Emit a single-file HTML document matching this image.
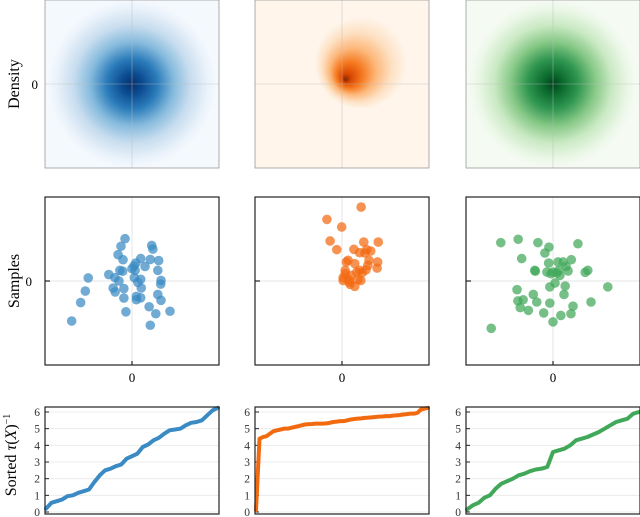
<!DOCTYPE html>
<html><head><meta charset="utf-8"><style>
html,body{margin:0;padding:0;background:#fff}
svg{display:block;font-family:"Liberation Serif",serif}
</style></head><body>
<svg id="fig" width="640" height="517" viewBox="0 0 640 517">
<defs>
<radialGradient id="gb" gradientUnits="userSpaceOnUse" cx="132" cy="84" r="84">
<stop offset="0" stop-color="#08306b"/><stop offset="0.12" stop-color="#0b4a8f"/><stop offset="0.3" stop-color="#2a7bba"/><stop offset="0.5" stop-color="#86bbdd"/><stop offset="0.7" stop-color="#c8ddef"/><stop offset="0.9" stop-color="#eaf2fa"/><stop offset="1" stop-color="#f4f9fe"/>
</radialGradient>
<radialGradient id="gg" gradientUnits="userSpaceOnUse" cx="553" cy="84" r="84">
<stop offset="0" stop-color="#00441b"/><stop offset="0.12" stop-color="#0b6b2e"/><stop offset="0.3" stop-color="#2f9650"/><stop offset="0.5" stop-color="#86c886"/><stop offset="0.7" stop-color="#c9e9c3"/><stop offset="0.9" stop-color="#ecf7e8"/><stop offset="1" stop-color="#f5fbf3"/>
</radialGradient>
<radialGradient id="go" gradientUnits="userSpaceOnUse" cx="361" cy="63" r="46" fx="345" fy="80">
<stop offset="0" stop-color="#7f2704"/><stop offset="0.1" stop-color="#d94801"/><stop offset="0.28" stop-color="#f5791f"/><stop offset="0.5" stop-color="#fdb77a"/><stop offset="0.75" stop-color="#fde0c2"/><stop offset="1" stop-color="#fff5eb"/>
</radialGradient>
</defs>
<g id="root"></g>
<text transform="translate(19,84) rotate(-90)" text-anchor="middle" font-size="16">Density</text>
<text transform="translate(19,281) rotate(-90)" text-anchor="middle" font-size="16">Samples</text>
<text transform="translate(16,455) rotate(-90)" text-anchor="middle" font-size="16">Sorted <tspan font-style="italic">τ</tspan>(<tspan font-style="italic">X</tspan>)<tspan dy="-6" font-size="10">−1</tspan></text>
</svg>
<script>
const blueX=[-0.24,-0.38,0.68,0.72,-0.48,-0.31,0.30,0.63,0.92,0.13,0.07,0,0.45,0.11,-0.42,-0.32,0.89,-0.80,-0.59,-1.51,-0.45,0.08,0.30,1.0,0.20,0.99,-0.65,0.32,-0.28,-0.58,-1.61,0.89,-0.28,0.15,0.30,0.15,1.0,-1.77,0.59,-0.21,0.82,1.31,-2.08,0.63];
const blueY=[1.51,1.24,1.27,1.14,0.94,0.76,0.80,0.77,0.73,0.64,0.54,0.44,0.52,0.38,0.38,0.35,0.38,0.23,0.12,0.11,0,0.12,0.06,0.02,-0.05,-0.11,-0.25,-0.25,-0.27,-0.39,-0.36,-0.48,-0.61,-0.55,-0.6,-0.67,-0.69,-0.77,-0.92,-1.10,-1.17,-1.08,-1.43,-1.58];
const orangeX=[0.66,-0.52,-0.01,-0.41,0.75,1.25,-0.18,0.41,0.61,0.85,0.99,0.79,0.21,0.15,0.93,1.23,0.44,0.89,0.11,0.61,1.21,0.83,0.51,0.70,0.11,0.32,0.04,0.23,0.55,0.04,0.25,0.44,0.28,0.65];
const orangeY=[2.64,2.20,1.93,1.43,1.39,1.39,1.12,1.13,1.01,1.12,1.07,1.0,0.74,0.68,0.74,0.68,0.62,0.56,0.38,0.38,0.46,0.40,0.32,0.30,0.26,0.20,0.12,0.05,0.05,0.02,-0.04,-0.19,-0.12,0.02];
const greenX=[-1.80,-1.20,-0.52,-0.14,0.86,-0.28,-1.08,-0.15,0.17,0.35,0.63,-0.63,-0.61,-0.21,0,0.20,0.52,1.20,1.11,0.13,-0.07,0.07,-0.11,0.42,1.89,-1.24,-0.68,0.38,-1.21,-1.03,-0.56,-0.11,1.31,-1.13,-0.85,0.69,-0.32,0.27,0.62,0,-2.13,0.45,0.24];
const greenY=[1.37,1.49,1.37,1.21,1.33,1.0,0.80,0.64,0.68,0.68,0.76,0.38,0.35,0.32,0.32,0.38,0.36,0.38,0.31,0.29,0.26,-0.07,-0.21,-0.18,-0.21,-0.31,-0.48,-0.48,-0.71,-0.67,-0.75,-0.79,-0.75,-0.95,-1.05,-0.90,-1.14,-1.23,-1.17,-1.46,-1.69,0.52,0.20];
const blueSorted=[0.2,0.55,0.65,0.75,0.95,1.0,1.15,1.25,1.35,1.8,2.2,2.5,2.6,2.75,2.85,3.2,3.35,3.5,3.9,4.05,4.3,4.45,4.7,4.9,4.95,5.0,5.2,5.35,5.4,5.5,5.8,6.1,6.25];
const orangeSorted=[0.1,4.4,4.5,4.55,4.7,4.85,4.9,4.95,5.0,5.0,5.05,5.1,5.15,5.2,5.25,5.27,5.28,5.3,5.3,5.3,5.32,5.35,5.4,5.42,5.45,5.45,5.5,5.55,5.58,5.6,5.62,5.65,5.66,5.68,5.7,5.72,5.73,5.75,5.75,5.78,5.8,5.82,5.85,5.87,5.9,5.9,5.95,6.15,6.2,6.25];
const greenSorted=[0.15,0.4,0.55,0.85,1.0,1.4,1.7,1.85,2.0,2.2,2.3,2.45,2.55,2.6,2.7,3.6,3.7,3.8,4.0,4.3,4.4,4.5,4.65,4.8,5.0,5.2,5.4,5.5,5.6,5.9,6.0];
const yTicks=[0,1,2,3,4,5,6];

const NS="http://www.w3.org/2000/svg";
const root=document.getElementById('root');
function mk(tag,attrs,parent){const e=document.createElementNS(NS,tag);for(const k in attrs)e.setAttribute(k,attrs[k]);(parent||root).appendChild(e);return e;}
const cols=[{l:45,r:219,c:'#3a8ac4',g:'url(#gb)',n:'blue'},{l:255,r:429,c:'#f26a10',g:'url(#go)',n:'orange'},{l:466,r:640,c:'#41a85a',g:'url(#gg)',n:'green'}];
const scat=[[blueX,blueY],[orangeX,orangeY],[greenX,greenY]];
const sorted=[blueSorted,orangeSorted,greenSorted];

cols.forEach((p,i)=>{
  const w=p.r-p.l, cx=(p.l+p.r)/2;
  const t=0,b=168, cy=(t+b)/2;
  let e=mk('rect',{x:p.l,y:t,width:w,height:b-t,fill:p.g});
  
  mk('line',{x1:cx,x2:cx,y1:t,y2:b,stroke:'#bbb','stroke-width':0.6,opacity:0.7});
  mk('line',{x1:p.l,x2:p.r,y1:cy,y2:cy,stroke:'#bbb','stroke-width':0.6,opacity:0.7});
  e=mk('rect',{x:p.l,y:t,width:w,height:b-t,fill:'none',stroke:'#999','stroke-width':0.8});
  
  if(i===0){e=mk('text',{x:p.l-7,y:cy+5,'text-anchor':'end','font-size':13});e.textContent='0';}

  const st=197,sb=365, scy=281;
  const sx=v=>cx+v*(w/2)/3, sy=v=>scy-v*((sb-st)/2)/3;
  mk('line',{x1:cx,x2:cx,y1:st,y2:sb,stroke:'#e4e4e4','stroke-width':1});
  mk('line',{x1:p.l,x2:p.r,y1:scy,y2:scy,stroke:'#e4e4e4','stroke-width':1});
  const [X,Y]=scat[i];
  X.forEach((xv,k)=>{e=mk('circle',{cx:sx(xv),cy:sy(Y[k]),r:4.8,fill:p.c,'fill-opacity':0.72});
    });
  e=mk('rect',{x:p.l,y:st,width:w,height:sb-st,fill:'none',stroke:'#222','stroke-width':1.2});
  
  mk('line',{x1:p.l,x2:p.l+5,y1:scy,y2:scy,stroke:'#222','stroke-width':1.2});
  mk('line',{x1:cx,x2:cx,y1:sb,y2:sb-4,stroke:'#222','stroke-width':1.2});
  e=mk('text',{x:cx,y:382,'text-anchor':'middle','font-size':13});e.textContent='0';
  
  if(i===0){e=mk('text',{x:p.l-13,y:scy+5,'text-anchor':'end','font-size':13});e.textContent='0';}

  const bt=407,bb=514;
  const y0=512,y6=412;
  const ly=v=>y0-v*(y0-y6)/6;
  yTicks.forEach(v=>{
    mk('line',{x1:p.l,x2:p.r,y1:ly(v),y2:ly(v),stroke:'#ececec','stroke-width':1});
    mk('line',{x1:p.l,x2:p.l+4,y1:ly(v),y2:ly(v),stroke:'#222','stroke-width':1});
    e=mk('text',{x:p.l-5,y:ly(v)+4,'text-anchor':'end','font-size':11.5,fill:'#333'});e.textContent=v;
    
  });
  const s=sorted[i], n=s.length;
  const lx=k=>p.l+1+k*(w-2)/(n-1);
  e=mk('polyline',{points:s.map((v,k)=>lx(k)+','+ly(v)).join(' '),fill:'none',stroke:p.c,'stroke-width':4,'stroke-linejoin':'round','stroke-linecap':'round'});
  
  e=mk('rect',{x:p.l,y:bt,width:w,height:bb-bt,fill:'none',stroke:'#222','stroke-width':1.2});
  
});
</script>
</body></html>
